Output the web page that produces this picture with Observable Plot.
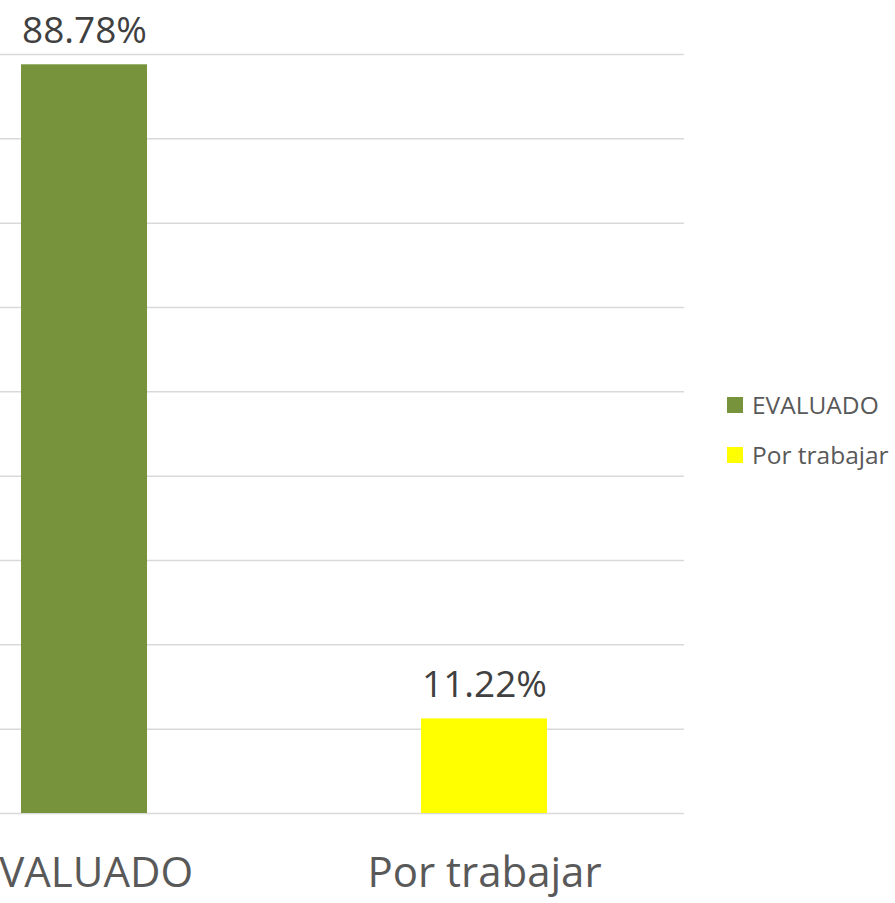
<!DOCTYPE html>
<html>
<head>
<meta charset="utf-8">
<script src="https://cdn.jsdelivr.net/npm/d3@7"></script>
<script src="https://cdn.jsdelivr.net/npm/@observablehq/plot@0.6"></script>
<style>
  html, body { margin: 0; padding: 0; background: #fff; overflow: hidden; width: 895px; height: 903px; }
  #chart { position: absolute; left: -117px; top: 0; }
  #legend { position: absolute; left: 727px; top: 391px; font-family: "Open Sans", sans-serif; font-size: 24.5px; color: #595959; }
  .item { display: flex; align-items: center; height: 27px; margin-bottom: 23px; white-space: nowrap; }
  .sw { width: 16px; height: 16px; margin-right: 9px; flex: none; }
</style>
</head>
<body>
<div id="chart"></div>
<div id="legend"></div>
<script>
const categories = ["EVALUADO", "Por trabajar"];
const values = [88.78, 11.22];
const colors = ["#77933C", "#FFFF00"];
const gridTicks = [0, 10, 20, 30, 40, 50, 60, 70, 80, 90];

const data = categories.map((c, i) => ({category: c, value: values[i]}));

const plot = Plot.plot({
  width: 801,
  height: 903,
  marginLeft: 0,
  marginRight: 0,
  marginTop: 54,
  marginBottom: 90,
  style: {fontFamily: "'Open Sans', sans-serif", background: "transparent"},
  x: {domain: categories, padding: 0},
  y: {domain: [0, 90]},
  color: {domain: categories, range: colors},
  marks: [
    Plot.gridY(gridTicks, {stroke: "#d9d9d9", strokeOpacity: 1, strokeWidth: 1.5}),
    Plot.barY(data, {x: "category", y: "value", fill: "category", insetLeft: 137, insetRight: 137}),
    Plot.text(data, {x: "category", y: "value", text: d => d.value.toFixed(2) + "%", dy: -22, lineAnchor: "bottom", fontSize: 37, fill: "#404040"}),
    Plot.axisX({tickSize: 0, tickPadding: 44, fontSize: 42, color: "#595959", label: null}),
    Plot.axisY({ticks: [], label: null})
  ]
});
document.getElementById("chart").appendChild(plot);

const legend = document.getElementById("legend");
categories.forEach((c, i) => {
  const item = document.createElement("div");
  item.className = "item";
  const sw = document.createElement("div");
  sw.className = "sw";
  sw.style.background = colors[i];
  const t = document.createElement("span");
  t.textContent = c;
  item.appendChild(sw);
  item.appendChild(t);
  legend.appendChild(item);
});
</script>
</body>
</html>
